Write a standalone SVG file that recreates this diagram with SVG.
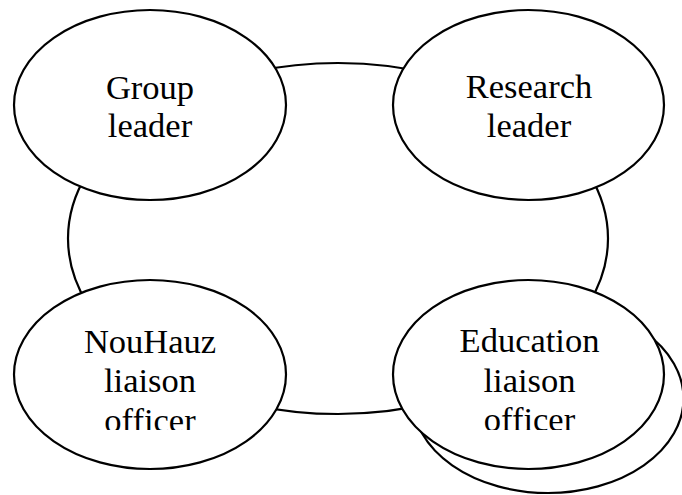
<svg xmlns="http://www.w3.org/2000/svg" width="682" height="495" viewBox="0 0 682 495">
  <style>
    .shape { fill: #ffffff; stroke: #000000; stroke-width: 2.2; }
    .outline { fill: none; stroke: #000000; stroke-width: 2.2; }
    .label { font-family: "Liberation Serif", "Times New Roman", serif; font-size: 34.5px; fill: #000000; text-anchor: middle; }
  </style>
  <defs>
    <clipPath id="clipBottom">
      <rect x="0" y="0" width="682" height="430"/>
    </clipPath>
  </defs>
  <rect width="682" height="495" fill="#ffffff"/>
  <g id="connectors">
    <ellipse class="outline" cx="338" cy="238.5" rx="270" ry="175.5"/>
  </g>
  <g id="node-group-leader">
    <ellipse class="shape" cx="150" cy="105" rx="136" ry="95"/>
    <text class="label" x="150" y="98.5">Group</text>
    <text class="label" x="150" y="137">leader</text>
  </g>
  <g id="node-research-leader">
    <ellipse class="shape" cx="528.5" cy="105" rx="135.5" ry="95"/>
    <text class="label" x="529" y="98">Research</text>
    <text class="label" x="529" y="137">leader</text>
  </g>
  <g id="node-nouhauz-liaison">
    <ellipse class="shape" cx="150" cy="374.5" rx="136" ry="94.5"/>
    <g clip-path="url(#clipBottom)">
      <text class="label" x="150" y="352.5">NouHauz</text>
      <text class="label" x="150" y="392">liaison</text>
      <text class="label" x="150" y="431.5">officer</text>
    </g>
  </g>
  <g id="node-education-liaison">
    <ellipse class="shape" cx="548" cy="398.5" rx="135.5" ry="94.5"/>
    <ellipse class="shape" cx="528.5" cy="374.5" rx="135.5" ry="94.5"/>
    <g clip-path="url(#clipBottom)">
      <text class="label" x="529.5" y="352">Education</text>
      <text class="label" x="529.5" y="391.5">liaison</text>
      <text class="label" x="529.5" y="431">officer</text>
    </g>
  </g>
</svg>
